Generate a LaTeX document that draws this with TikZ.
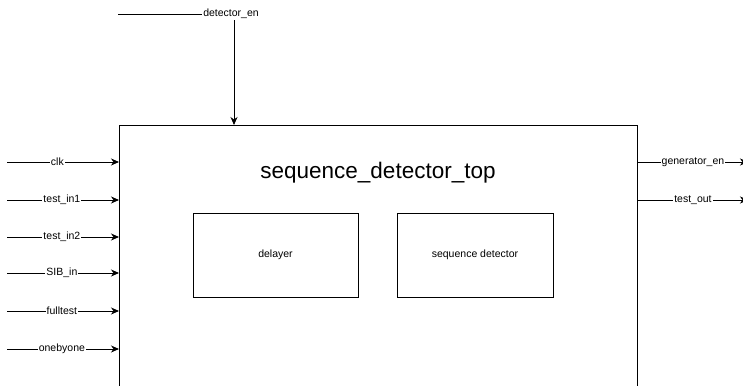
\documentclass[tikz,border=0pt]{standalone}
\usepackage{fontspec}
\setmainfont{Liberation Sans}
\usetikzlibrary{arrows.meta}
\begin{document}
\begin{tikzpicture}[x=1pt,y=-1pt,
  sig/.style={draw, line width=0.9pt, -{Stealth[length=8pt,width=7pt,inset=2.5pt]}},
  lbl/.style={fill=white, inner sep=1pt, font=\fontsize{10.5}{12}\selectfont},
  block/.style={draw, line width=0.9pt, inner sep=0pt, font=\fontsize{10.5}{12}\selectfont}]
\useasboundingbox (0,0) rectangle (743,385);
\clip (0,0) rectangle (743,385);
% top-level module
\node[block, anchor=north west, minimum width=518pt, minimum height=320pt] (top) at (119,125) {};
\node[font=\fontsize{22.5}{26}\selectfont] (title) at (378,173) {sequence\_detector\_top};
% submodules
\node[block, minimum width=165pt, minimum height=84pt] (delayer) at (275.5,255) {delayer};
\node[block, minimum width=156pt, minimum height=84pt] (seqdet) at (475,255) {sequence detector};
% input ports
\foreach \name/\y/\p in {clk/162/0.45, test\_in1/200/0.49, test\_in2/237/0.49, SIB\_in/273/0.49, fulltest/311/0.49, onebyone/349/0.49}{
  \coordinate (in) at (7,\y);
  \draw[sig] (in) -- (in -| top.west) node[lbl, pos=\p] {\name};
}
% output ports
\foreach \name/\y in {generator\_en/162, test\_out/200}{
  \coordinate (out) at (748,\y);
  \draw[sig] (out -| top.east) -- (out) node[lbl, midway] {\name};
}
% enable input from above
\coordinate (den) at (118,14);
\coordinate (denend) at (234,125);
\draw[sig] (den) -| (denend) node[lbl, pos=0.5, xshift=-3pt] {detector\_en};
\end{tikzpicture}
\end{document}
